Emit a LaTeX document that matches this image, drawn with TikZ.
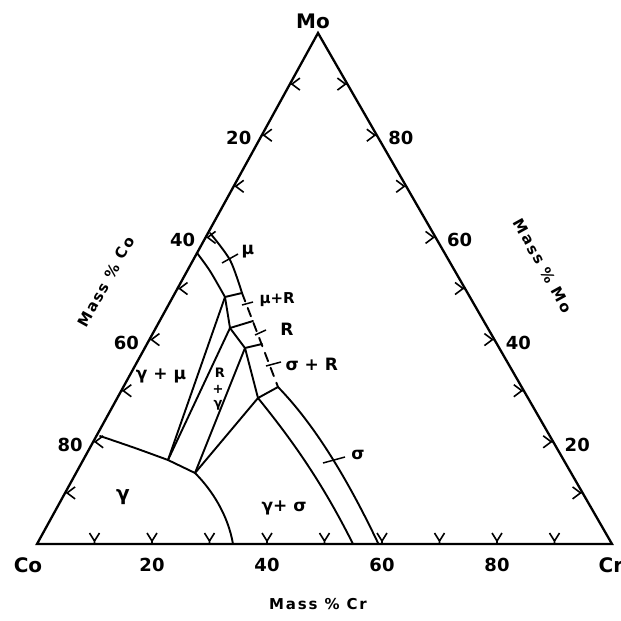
\documentclass[tikz,border=0pt]{standalone}
\usepackage{fontspec}
\setmainfont{DejaVu Sans}
\usepackage{tikz}
\usetikzlibrary{calc}
\tikzset{
    side/.style={line width=2.3pt, line join=miter},
    bound/.style={line width=1.9pt, line cap=round, line join=round},
    tickmark/.style={line width=1.6pt},
    leader/.style={line width=1.5pt},
    cornerlabel/.style={font=\fontsize{20}{20}\selectfont\bfseries},
    numlabel/.style={font=\fontsize{18}{18}\selectfont\bfseries},
    axlabel/.style={font=\fontsize{15}{15}\selectfont\bfseries\addfontfeature{LetterSpace=12}},
    phase/.style={font=\fontsize{17}{17}\selectfont\bfseries},
    smallphase/.style={font=\fontsize{13}{13}\selectfont\bfseries, inner sep=0pt}
}

\begin{document}
\begin{tikzpicture}[x=1pt, y=-1pt]
    \useasboundingbox (0,0) rectangle (621,621);

    % Corners
    \coordinate (Co) at (37,544);
    \coordinate (Cr) at (612,544);
    \coordinate (Mo) at (318,33);
    \draw[side] (Co) -- (Cr) -- (Mo) -- cycle;

    % Ticks
    \foreach \p in {10,20,...,90} {
        \draw[tickmark] ($(Co)!\p/100!(Cr)$) -- ++(0,-3) -- ++(-5,-8) ++(5,8) -- ++(5,-8);
        \draw[tickmark] ($(Mo)!\p/100!(Co)$) -- ++(2,0) -- ++(8,-6) ++(-8,6) -- ++(8,6);
        \draw[tickmark] ($(Cr)!\p/100!(Mo)$) -- ++(-2,0) -- ++(-8,-6) ++(8,6) -- ++(-8,6);
    }
    \foreach \p in {20,40,60,80} {
        \node[numlabel] (bc\p) at ($(Co)!\p/100!(Cr) + (0,21)$) {\p};
        \node[numlabel, anchor=east] (lc\p) at ($(Mo)!\p/100!(Co) + (-7,3)$) {\p};
        \node[numlabel, anchor=west] (rc\p) at ($(Cr)!\p/100!(Mo) + (8,3)$) {\p};
    }

    % Corner and axis labels
    \node[cornerlabel] (coname) at (28,565) {Co};
    \node[cornerlabel] (crname) at (611,565) {Cr};
    \node[cornerlabel] (moname) at (313,21) {Mo};
    \node[axlabel] (craxis) at (318,604) {Mass \% Cr};
    \node[axlabel, rotate=61] (coaxis) at (106,282) {Mass \% Co};
    \node[axlabel, rotate=-61] (moaxis) at (543,266) {Mass \% Mo};

    % Phase boundaries
    \draw[bound] plot[smooth] coordinates {(197,253) (210,271) (225,297)}
        -- (230,328) -- (245,348) -- (258,398)
        .. controls (292,440) and (322,482) .. (353,544);
    \draw[bound] plot[smooth] coordinates {(210,233) (230,260) (242,293)};
    \draw[bound, dash pattern=on 9pt off 7pt] (242,293) -- (278,387);
    \draw[bound] (278,387) .. controls (315,425) and (348,480) .. (378,543);

    % Tie lines
    \draw[bound] (225,297) -- (242,293);
    \draw[bound] (230,328) -- (253,321);
    \draw[bound] (245,348) -- (262,344);
    \draw[bound] (258,398) -- (278,387);

    % Three-phase fields
    \draw[bound] (225,297) -- (168,460);
    \draw[bound] (230,328) -- (168,460);
    \draw[bound] (245,348) -- (195,473);
    \draw[bound] (258,398) -- (195,473);

    % Gamma boundary
    \draw[bound] plot[smooth] coordinates {(100,436) (135,448) (168,460)} -- (195,473)
        .. controls (212,490) and (228,515) .. (233,544);

    % Leaders
    \draw[leader] (222,263) -- (238,254);
    \draw[leader] (242,305) -- (253,302);
    \draw[leader] (255,335) -- (266,330);
    \draw[leader] (266,366) -- (281,362);
    \draw[leader] (323,463) -- (345,457);

    % Phase labels
    \node[phase] (mu) at (248,252) {μ};
    \node[phase, anchor=west, font=\fontsize{15}{15}\selectfont\bfseries] (mur) at (256,300) {μ+R};
    \node[phase] (rr) at (287,329) {R};
    \node[phase, anchor=west] (sigr) at (282,364) {σ + R};
    \node[phase] (sig) at (358,455) {σ};
    \node[phase] (gammu) at (161,376) {γ + μ};
    \node[phase, font=\fontsize{20}{20}\selectfont\bfseries] (gam) at (123,497) {γ};
    \node[phase] (gamsig) at (284,508) {γ+ σ};
    \node[smallphase] (rg1) at (220,373) {R};
    \node[smallphase] (rg2) at (218,389) {+};
    \node[smallphase] (rg3) at (218,405) {γ};
\end{tikzpicture}
\end{document}
